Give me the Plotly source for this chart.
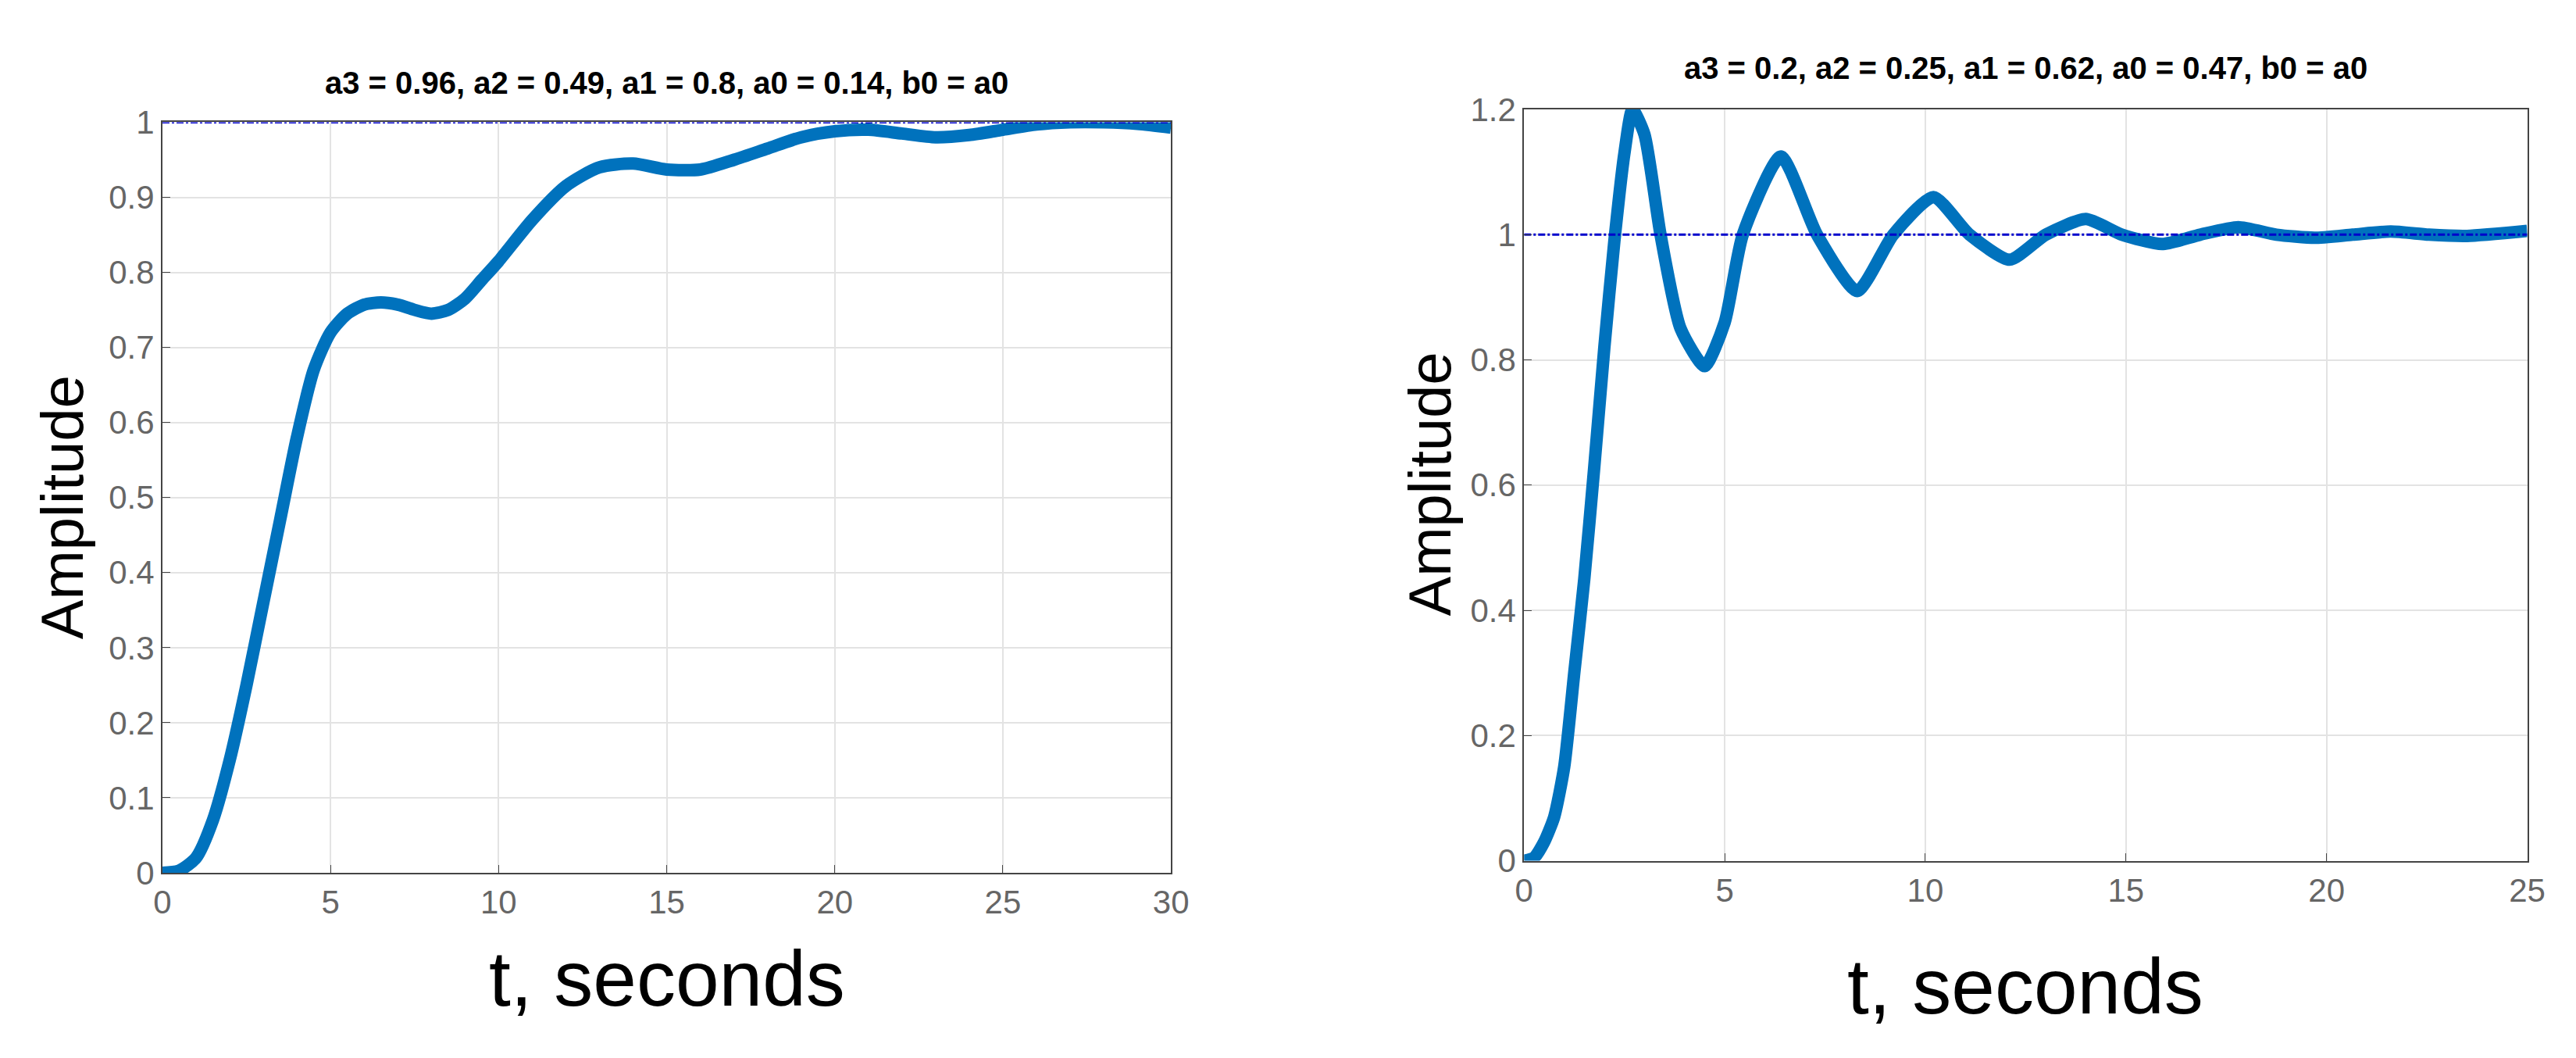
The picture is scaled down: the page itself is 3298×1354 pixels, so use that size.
import plotly.graph_objects as go

t_left = [0, 0.5, 1, 1.5, 2, 2.5, 3, 3.5, 4, 4.5, 5, 5.5, 6, 6.5, 7, 7.5, 8, 8.5, 9, 9.5, 10, 11, 12, 13, 14, 15, 16, 17, 18, 19, 20, 21, 22, 23, 24, 25, 26, 27, 28, 29, 30]
y_left = [0, 0.003, 0.02, 0.07, 0.15, 0.25, 0.36, 0.47, 0.58, 0.67, 0.72, 0.745, 0.757, 0.76, 0.757, 0.75, 0.745, 0.75, 0.765, 0.79, 0.815, 0.87, 0.915, 0.94, 0.945, 0.937, 0.937, 0.95, 0.965, 0.98, 0.988, 0.99, 0.985, 0.98, 0.983, 0.99, 0.997, 1.0, 1.0, 0.998, 0.993]
t_right = [0, 0.25, 0.5, 0.75, 1, 1.25, 1.5, 1.75, 2.0, 2.25, 2.5, 2.7, 3.0, 3.4, 3.9, 4.5, 5.0, 5.45, 6.4, 7.3, 8.3, 9.2, 10.2, 11.1, 12.1, 13.0, 14, 14.9, 15.9, 16.85, 17.8, 18.75, 19.7, 20.65, 21.6, 22.55, 23.5, 25]
y_right = [0, 0.005, 0.03, 0.07, 0.15, 0.3, 0.45, 0.63, 0.82, 0.99, 1.13, 1.2, 1.16, 1.0, 0.85, 0.79, 0.86, 1.0, 1.125, 1.0, 0.91, 1.0, 1.06, 1.0, 0.96, 1.0, 1.025, 1.0, 0.985, 1.0, 1.012, 1.0, 0.995, 1.0, 1.005, 1.0, 0.998, 1.006]
titles = ["a3 = 0.96, a2 = 0.49, a1 = 0.8, a0 = 0.14, b0 = a0",
          "a3 = 0.2, a2 = 0.25, a1 = 0.62, a0 = 0.47, b0 = a0"]
ref_level = 1.0

W, H = 3298, 1354
fig = go.Figure()
blue = "#0072BD"
fig.add_trace(go.Scatter(x=t_left, y=y_left, mode="lines", line=dict(color=blue, width=16, shape="spline", smoothing=0.7), xaxis="x", yaxis="y"))
fig.add_trace(go.Scatter(x=[0, 30], y=[ref_level]*2, mode="lines", line=dict(color="#0000CC", width=3, dash="dashdot"), xaxis="x", yaxis="y"))
fig.add_trace(go.Scatter(x=t_right, y=y_right, mode="lines", line=dict(color=blue, width=16, shape="spline", smoothing=0.6), xaxis="x2", yaxis="y2"))
fig.add_trace(go.Scatter(x=[0, 25], y=[ref_level]*2, mode="lines", line=dict(color="#0000CC", width=3, dash="dashdot"), xaxis="x2", yaxis="y2"))

ax = dict(showgrid=True, gridcolor="#E3E3E3", gridwidth=2, showline=True, linecolor="#444444", linewidth=2,
          mirror=True, ticks="inside", ticklen=10, tickcolor="#444444", zeroline=False,
          tickfont=dict(family="Liberation Sans Narrow, Liberation Sans", size=42, color="#666666"))
L = (190, 1495); R = (1952, 3250)
fig.update_layout(
    width=W, height=H, plot_bgcolor="white", paper_bgcolor="white", showlegend=False,
    margin=dict(l=0, r=0, t=0, b=0),
    xaxis=dict(ax, domain=[L[0]/W, L[1]/W], range=[0, 30], dtick=5, anchor="y"),
    yaxis=dict(ax, domain=[1-1125/H, 1-130/H], range=[0, 1], dtick=0.1, anchor="x"),
    xaxis2=dict(ax, domain=[R[0]/W, R[1]/W], range=[0, 25], dtick=5, anchor="y2"),
    yaxis2=dict(ax, domain=[1-1109/H, 1-113/H], range=[0, 1.2], dtick=0.2, anchor="x2"),
)
fig.update_xaxes(tickformat="d")
fig.update_yaxes(tickformat="~g")
ann = []
c = dict(xref="paper", yref="paper", showarrow=False, xanchor="center", yanchor="middle")
tf = dict(family="Liberation Sans Narrow, Liberation Sans", size=40, color="black")
ann.append(dict(c, text="<b>"+titles[0]+"</b>", x=(L[0]+L[1])/2/W, y=1-78/H, font=tf))
ann.append(dict(c, text="<b>"+titles[1]+"</b>", x=(R[0]+R[1])/2/W, y=1-58/H, font=tf))
bf = dict(family="Liberation Sans, Arial", size=100, color="black")
yf = dict(family="Liberation Sans, Arial", size=76, color="black")
ann.append(dict(c, text="t, seconds", x=(L[0]+L[1])/2/W, y=1-1265/H, font=bf))
ann.append(dict(c, text="t, seconds", x=(R[0]+R[1])/2/W, y=1-1275/H, font=bf))
ann.append(dict(c, text="Amplitude", x=60/W, y=1-640/H, textangle=-90, font=yf))
ann.append(dict(c, text="Amplitude", x=1830/W, y=1-610/H, textangle=-90, font=yf))
fig.update_layout(annotations=ann)
fig.write_html("out.html")
